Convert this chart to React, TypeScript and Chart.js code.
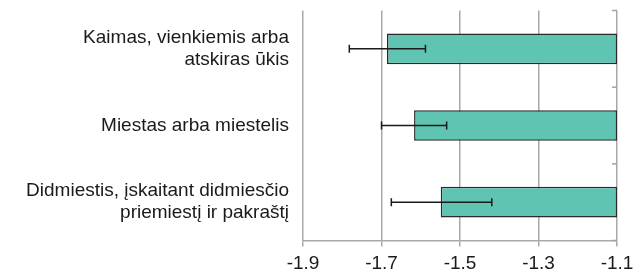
import React, { useEffect, useRef } from "react";
import { Chart, registerables } from "chart.js";

Chart.register(...registerables);

const categories: string[][] = [
  ["Kaimas, vienkiemis arba", "atskiras ūkis"],
  ["Miestas arba miestelis"],
  ["Didmiestis, įskaitant didmiesčio", "priemiestį ir pakraštį"],
];
const values: number[] = [-1.686, -1.617, -1.549];
const errLow: number[] = [-1.782, -1.70, -1.675];
const errHigh: number[] = [-1.588, -1.534, -1.419];
const BASE = -1.1;
const X_MIN = -1.9;
const X_MAX = -1.1;
const X_STEP = 0.2;

const FONT = "'Liberation Sans', Arial, sans-serif";

const extrasPlugin = {
  id: "extras",
  afterDatasetsDraw(chart: any) {
    const ctx = chart.ctx;
    const xs = chart.scales.x;
    const ys = chart.scales.y;
    ctx.save();
    ctx.strokeStyle = "#1a1a1a";
    ctx.lineWidth = 1.5;
    for (let i = 0; i < values.length; i++) {
      const y = ys.getPixelForValue(i);
      const x1 = xs.getPixelForValue(errLow[i]);
      const x2 = xs.getPixelForValue(errHigh[i]);
      ctx.beginPath();
      ctx.moveTo(x1, y);
      ctx.lineTo(x2, y);
      ctx.moveTo(x1, y - 4);
      ctx.lineTo(x1, y + 4);
      ctx.moveTo(x2, y - 4);
      ctx.lineTo(x2, y + 4);
      ctx.stroke();
    }
    ctx.strokeStyle = "#a0a0a0";
    ctx.lineWidth = 1.5;
    const xr = xs.getPixelForValue(BASE);
    for (let i = 0; i <= values.length; i++) {
      const y = ys.getPixelForValue(i - 0.5);
      ctx.beginPath();
      ctx.moveTo(xr - 5, y);
      ctx.lineTo(xr, y);
      ctx.stroke();
    }
    ctx.restore();
  },
};

export default function App() {
  const ref = useRef<HTMLCanvasElement | null>(null);
  useEffect(() => {
    document.body.style.margin = "0";
    const chart = new Chart(ref.current as HTMLCanvasElement, {
      type: "bar",
      data: {
        labels: categories,
        datasets: [
          {
            data: values.map((v) => [BASE, v]) as any,
            backgroundColor: "#5fc4b1",
            borderColor: "#2a2a2a",
            borderWidth: 1.5,
            borderSkipped: false,
            categoryPercentage: 0.4,
            barPercentage: 1,
          },
        ],
      },
      options: {
        indexAxis: "y",
        animation: false,
        responsive: false,
        maintainAspectRatio: false,
        layout: { padding: { top: 10.5, right: 19, left: 0, bottom: 0 } },
        plugins: {
          legend: { display: false },
          tooltip: { enabled: false },
        },
        scales: {
          x: {
            type: "linear",
            min: X_MIN,
            max: X_MAX,
            ticks: {
              stepSize: X_STEP,
              color: "#1a1a1a",
              font: { family: FONT, size: 19 },
              padding: 6,
              callback: (v: any) => Number(v).toFixed(1),
            },
            grid: {
              color: "#a8a8a8",
              lineWidth: 1.5,
              drawTicks: true,
              tickLength: 6,
            },
            border: { display: true, color: "#a8a8a8", width: 1.5 },
            afterFit: (s: any) => {
              s.height = 34.5;
              s.paddingLeft = 0;
              s.paddingRight = 0;
            },
          },
          y: {
            type: "category",
            ticks: {
              color: "#1a1a1a",
              font: { family: FONT, size: 19, lineHeight: 1.15 },
              padding: 14,
            },
            grid: { display: false, drawTicks: false },
            border: { display: false },
            afterFit: (s: any) => {
              s.width = 303;
              s.paddingTop = 0;
              s.paddingBottom = 0;
            },
          },
        },
      },
      plugins: [extrasPlugin],
    });
    return () => chart.destroy();
  }, []);
  return (
    <div style={{ position: "absolute", left: 0, top: 0, width: 636, height: 275 }}>
      <canvas ref={ref} width={636} height={275} />
    </div>
  );
}
